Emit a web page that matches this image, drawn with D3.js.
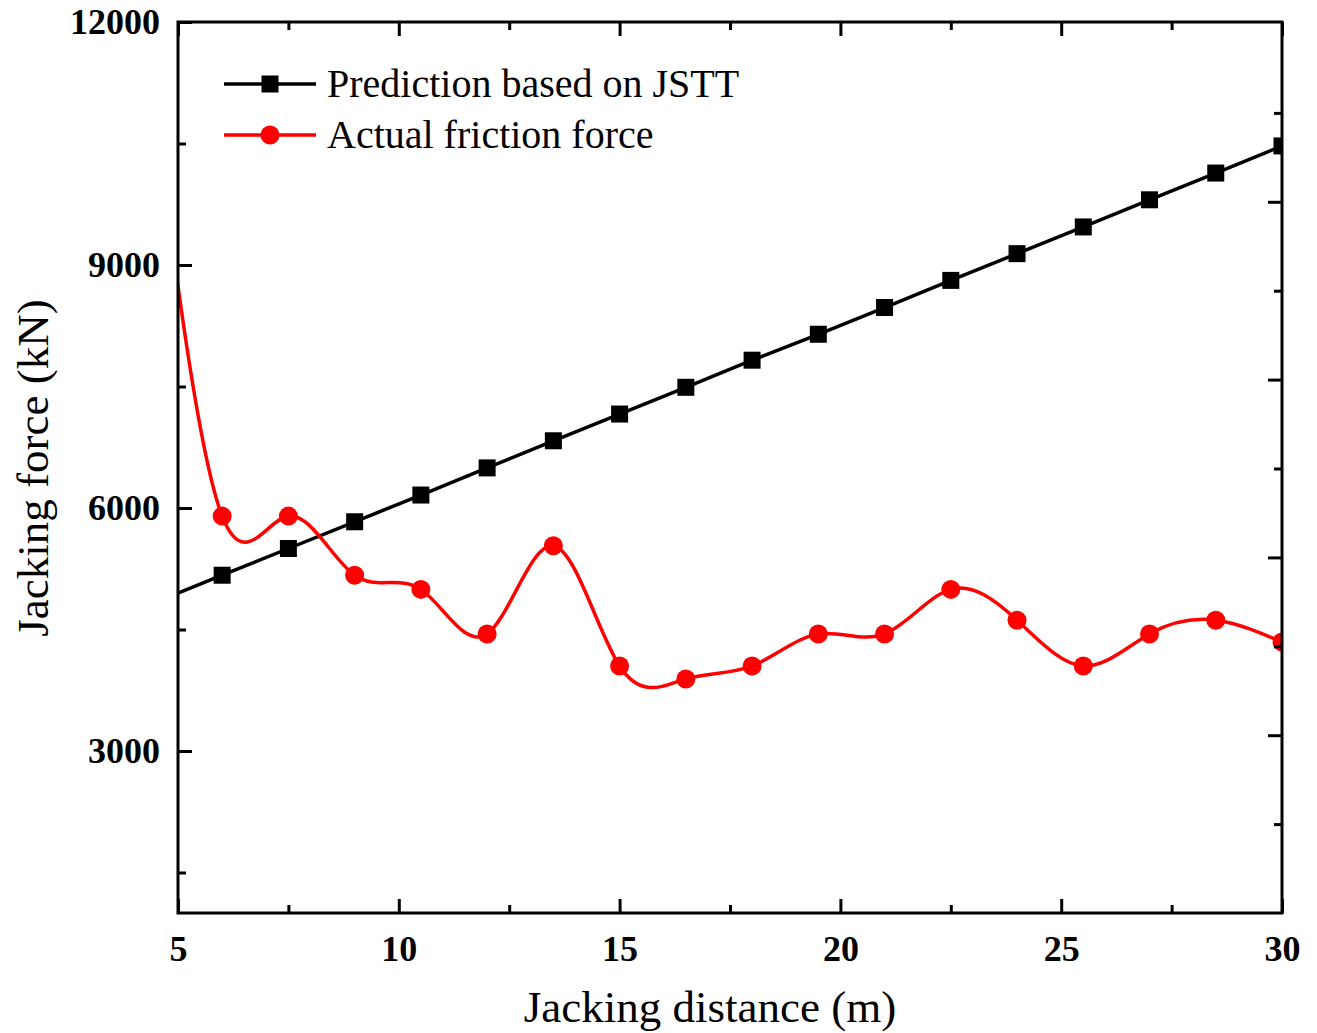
<!DOCTYPE html>
<html>
<head>
<meta charset="utf-8">
<script src="https://cdn.jsdelivr.net/npm/d3@7"></script>
<style>
  body { margin: 0; background: #fff; }
  svg { display: block; }
  text { font-family: 'Liberation Serif', 'Times New Roman', serif; }
</style>
</head>
<body>
<svg id="chart" width="1317" height="1033"></svg>
<script>
// jacking distance (m); first point lies left of the axis and gets clipped
const distance = [4.5, 6, 7.5, 9, 10.5, 12, 13.5, 15, 16.5, 18, 19.5, 21, 22.5, 24, 25.5, 27, 28.5, 30];
const predicted = [4840, 5170, 5500, 5830, 6160, 6495, 6830, 7160, 7490, 7825, 8145, 8475, 8810, 9140, 9470, 9805, 10135, 10470];
const actual = [10750, 5900, 5900, 5170, 4995, 4445, 5535, 4050, 3890, 4050, 4445, 4445, 4995, 4615, 4050, 4445, 4615, 4345];

const xTicks = [5, 10, 15, 20, 25, 30];
const xMinor = [7.5, 12.5, 17.5, 22.5, 27.5];
const yTicks = [3000, 6000, 9000, 12000];
const yMinor = [1500, 4500, 7500, 10500];

const seriesNames = ['Prediction based on JSTT', 'Actual friction force'];

const svg = d3.select('#chart');
const margin = { top: 22, right: 35, bottom: 120, left: 178 };
const width = 1317 - margin.left - margin.right;
const height = 1033 - margin.top - margin.bottom;

const g = svg.append('g').attr('transform', `translate(${margin.left},${margin.top})`);

const xScale = d3.scaleLinear().domain([5, 30]).range([0, width]);
const yScale = d3.scaleLinear().domain([1000, 12000]).range([height, 0]);
// right-hand axis carries its own unlabeled scale
const rScale = d3.scaleLinear().domain([0, 5]).range([height, 2]);

g.append('clipPath').attr('id', 'plot-clip')
  .append('rect').attr('width', width).attr('height', height);

const plot = g.append('g').attr('clip-path', 'url(#plot-clip)');

const line = (vals) => d3.line()
  .x((d, i) => xScale(distance[i]))
  .y((d) => yScale(d))
  .curve(d3.curveNatural)(vals);

plot.append('path')
  .attr('d', d3.line().x((d, i) => xScale(distance[i])).y((d) => yScale(d))(predicted))
  .attr('fill', 'none').attr('stroke', '#000').attr('stroke-width', 3.5);

plot.append('path')
  .attr('d', line(actual))
  .attr('fill', 'none').attr('stroke', '#ff0000').attr('stroke-width', 3.5);

const sq = 17;
plot.selectAll('.sq')
  .data(predicted)
  .enter().append('rect')
  .attr('class', 'sq')
  .attr('x', (d, i) => xScale(distance[i]) - sq / 2)
  .attr('y', (d) => yScale(d) - sq / 2)
  .attr('width', sq).attr('height', sq)
  .attr('fill', '#000');

plot.selectAll('.dot')
  .data(actual)
  .enter().append('circle')
  .attr('class', 'dot')
  .attr('cx', (d, i) => xScale(distance[i]))
  .attr('cy', (d) => yScale(d))
  .attr('r', 9.5)
  .attr('fill', '#ff0000');

// axes, ticks pointing inward
function styleAxis(sel) {
  sel.select('.domain').remove();
  sel.selectAll('line').attr('stroke', '#000').attr('stroke-width', 3);
  sel.selectAll('text')
    .attr('fill', '#000')
    .style('font-size', '36px')
    .style('font-weight', 'bold');
}

g.append('g')
  .attr('transform', `translate(0,${height})`)
  .call(d3.axisBottom(xScale).tickValues(xTicks).tickSizeInner(-14).tickSizeOuter(0).tickPadding(22).tickFormat(d3.format('d')))
  .call(styleAxis);
g.append('g')
  .attr('transform', `translate(0,${height})`)
  .call(d3.axisBottom(xScale).tickValues(xMinor).tickSizeInner(-8).tickSizeOuter(0).tickFormat(''))
  .call(styleAxis);
g.append('g')
  .call(d3.axisTop(xScale).tickValues(xTicks).tickSizeInner(-14).tickSizeOuter(0).tickFormat(''))
  .call(styleAxis);
g.append('g')
  .call(d3.axisTop(xScale).tickValues(xMinor).tickSizeInner(-8).tickSizeOuter(0).tickFormat(''))
  .call(styleAxis);

g.append('g')
  .call(d3.axisLeft(yScale).tickValues(yTicks).tickSizeInner(-14).tickSizeOuter(0).tickPadding(18).tickFormat(d3.format('d')))
  .call(styleAxis);
g.append('g')
  .call(d3.axisLeft(yScale).tickValues(yMinor).tickSizeInner(-8).tickSizeOuter(0).tickFormat(''))
  .call(styleAxis);

g.append('g')
  .attr('transform', `translate(${width},0)`)
  .call(d3.axisRight(rScale).tickValues([1, 2, 3, 4]).tickSizeInner(-14).tickSizeOuter(0).tickFormat(''))
  .call(styleAxis);
g.append('g')
  .attr('transform', `translate(${width},0)`)
  .call(d3.axisRight(rScale).tickValues([0.5, 1.5, 2.5, 3.5, 4.5]).tickSizeInner(-8).tickSizeOuter(0).tickFormat(''))
  .call(styleAxis);

g.append('rect')
  .attr('width', width).attr('height', height)
  .attr('fill', 'none').attr('stroke', '#000').attr('stroke-width', 3);

// axis titles
g.append('text')
  .attr('x', xScale(17.5) - 20)
  .attr('y', height + 109)
  .attr('text-anchor', 'middle')
  .style('font-size', '45px')
  .text('Jacking distance (m)');

g.append('text')
  .attr('transform', `translate(${48 - margin.left},${446}) rotate(-90)`)
  .attr('text-anchor', 'middle')
  .style('font-size', '45px')
  .text('Jacking force (kN)');

// legend
const legend = g.append('g').attr('transform', 'translate(46,62)');
seriesNames.forEach((name, i) => {
  const row = legend.append('g').attr('transform', `translate(0,${i * 51})`);
  const color = i === 0 ? '#000' : '#ff0000';
  row.append('line')
    .attr('x1', 0).attr('x2', 92)
    .attr('stroke', color).attr('stroke-width', 3.5);
  if (i === 0) {
    row.append('rect').attr('x', 46 - sq / 2).attr('y', -sq / 2)
      .attr('width', sq).attr('height', sq).attr('fill', color);
  } else {
    row.append('circle').attr('cx', 46).attr('r', 9.5).attr('fill', color);
  }
  row.append('text')
    .attr('x', 103).attr('y', 13)
    .style('font-size', '40px')
    .text(name);
});
</script>
</body>
</html>
